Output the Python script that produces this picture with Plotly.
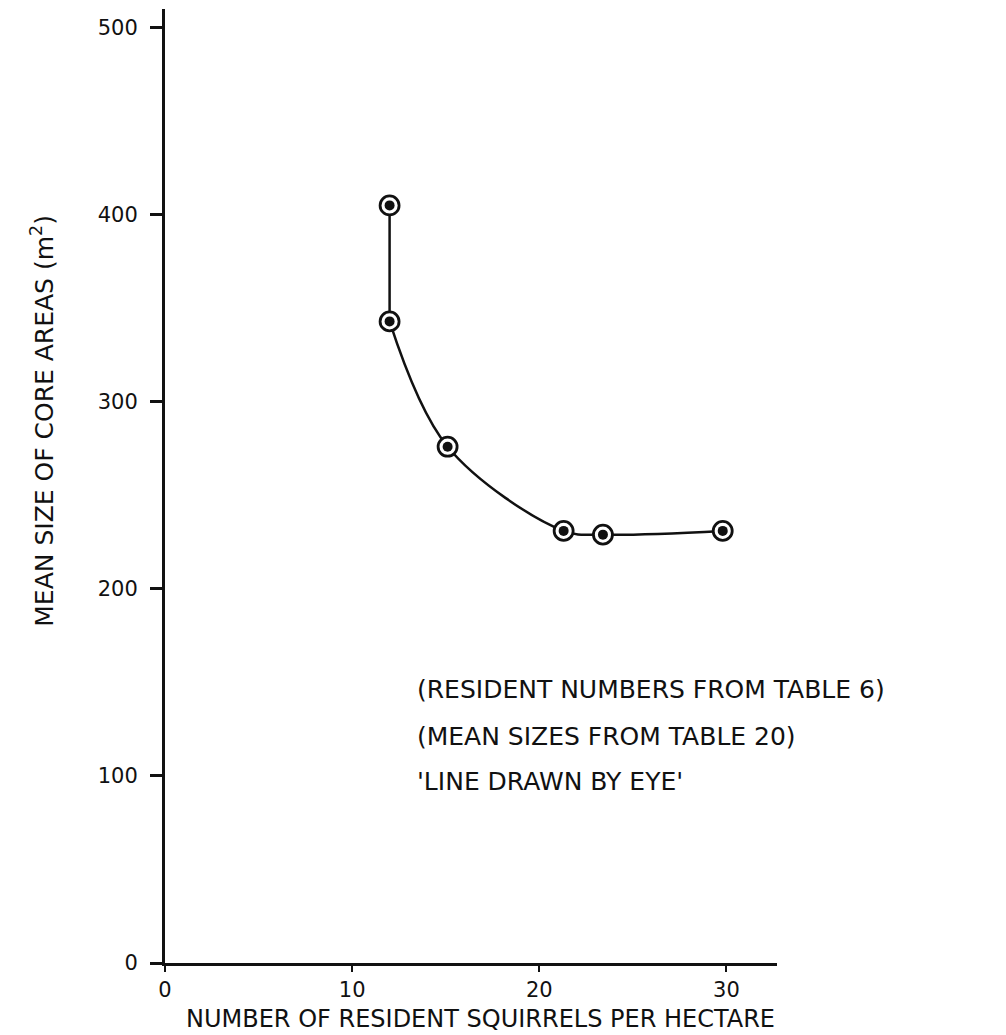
import plotly.graph_objects as go

# Data
squirrels_per_ha = [12.0, 12.0, 15.1, 21.3, 23.4, 29.8]
mean_core_area = [405, 343, 276, 231, 229, 231]

x_ticks = [0, 10, 20, 30]
y_ticks = [0, 100, 200, 300, 400, 500]

notes = ["(RESIDENT NUMBERS FROM TABLE 6)",
         "(MEAN SIZES FROM TABLE 20)",
         "'LINE DRAWN BY EYE'"]
note_y = [146, 121, 97]

FONT = "DejaVu Sans"
INK = "#111111"

fig = go.Figure()

# line drawn by eye: straight vertical part, then a smooth curve
fig.add_trace(go.Scatter(
    x=squirrels_per_ha[:2], y=mean_core_area[:2], mode="lines",
    line=dict(color=INK, width=2.5),
    hoverinfo="skip", showlegend=False))
fig.add_trace(go.Scatter(
    x=squirrels_per_ha[1:], y=mean_core_area[1:], mode="lines",
    line=dict(color=INK, width=2.5, shape="spline", smoothing=1.0),
    hoverinfo="skip", showlegend=False))
# outer ring of the markers
fig.add_trace(go.Scatter(
    x=squirrels_per_ha, y=mean_core_area, mode="markers",
    marker=dict(symbol="circle", size=19, color="white",
                line=dict(color=INK, width=2.8)),
    showlegend=False))
# solid centre
fig.add_trace(go.Scatter(
    x=squirrels_per_ha, y=mean_core_area, mode="markers",
    marker=dict(symbol="circle", size=10, color=INK, line=dict(width=0)),
    showlegend=False))

for txt, yy in zip(notes, note_y):
    fig.add_annotation(x=13.35, y=yy, xref="x", yref="y", text=txt,
                       showarrow=False, xanchor="left", yanchor="middle",
                       font=dict(family=FONT, size=25, color=INK))

# axis titles
fig.add_annotation(x=0.515, y=-0.059, xref="paper", yref="paper",
                   text="NUMBER OF RESIDENT SQUIRRELS PER HECTARE",
                   showarrow=False, xanchor="center", yanchor="middle",
                   font=dict(family=FONT, size=24, color=INK))
fig.add_annotation(x=-0.200, y=0.568, xref="paper", yref="paper",
                   text="MEAN SIZE OF CORE AREAS (m<sup>2</sup>)",
                   textangle=-90, showarrow=False,
                   xanchor="center", yanchor="middle",
                   font=dict(family=FONT, size=25, color=INK))

fig.update_layout(
    width=1006, height=1035,
    margin=dict(l=165, r=229, t=9, b=72),
    paper_bgcolor="white", plot_bgcolor="white",
    font=dict(family=FONT, color=INK),
    showlegend=False,
)
fig.update_xaxes(
    range=[0, 32.7], tickvals=x_ticks, ticktext=[str(v) for v in x_ticks],
    showgrid=False, zeroline=False, showline=True, linecolor=INK, linewidth=3,
    ticks="outside", ticklen=6, tickwidth=2, tickcolor=INK,
    tickfont=dict(family=FONT, size=21, color=INK), ticklabelstandoff=0)
fig.update_yaxes(
    range=[0, 510], tickvals=y_ticks, ticktext=[str(v) for v in y_ticks],
    showgrid=False, zeroline=False, showline=True, linecolor=INK, linewidth=3,
    ticks="outside", ticklen=12, tickwidth=2.5, tickcolor=INK,
    tickfont=dict(family=FONT, size=21, color=INK), ticklabelstandoff=8)

fig.write_html("out.html")
